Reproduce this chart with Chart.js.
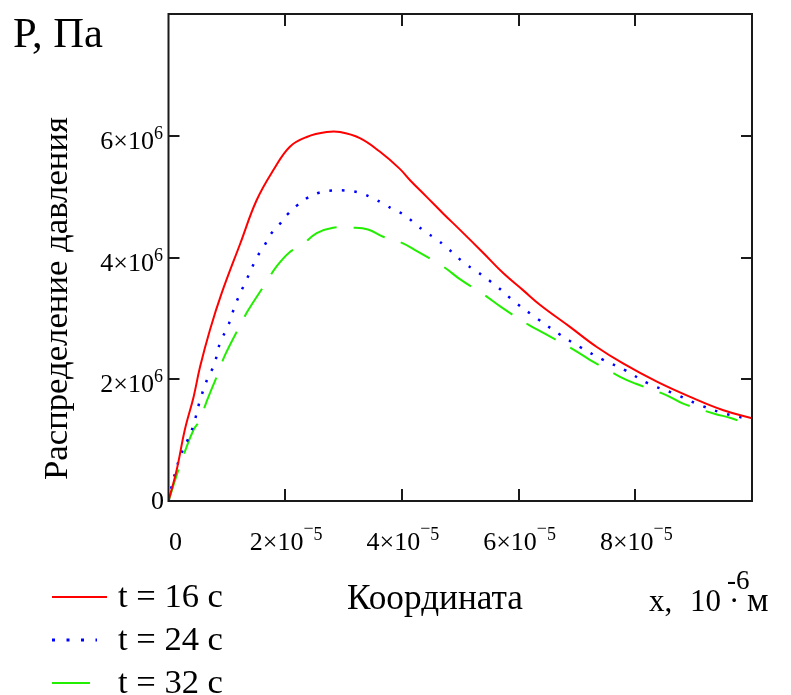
<!DOCTYPE html>
<html><head><meta charset="utf-8">
<script src="https://cdn.jsdelivr.net/npm/chart.js@4.4.1/dist/chart.umd.min.js"></script>
<style>html,body{margin:0;padding:0;background:#fff;overflow:hidden}</style>
</head><body>
<canvas id="c" width="791" height="695" style="display:block;width:791px;height:695px"></canvas>
<script>
// x in units of 1e-5 m, P in units of 1e6 Pa
const x16 = [0,0.14,0.28,0.43,0.54,0.71,0.91,1.23,1.51,1.80,2.08,2.37,2.71,2.94,3.28,3.62,3.96,4.14,4.42,4.71,5.0,5.40,5.74,6.08,6.37,6.88,7.34,7.79,8.37,8.94,9.51,10.0];
const p16 = [0,0.51,1.17,1.71,2.20,2.81,3.41,4.23,4.94,5.44,5.82,5.98,6.06,6.06,5.96,5.74,5.46,5.27,5.00,4.72,4.45,4.07,3.74,3.46,3.22,2.86,2.53,2.26,1.96,1.71,1.49,1.36];
const x24 = [0,0.08,0.20,0.34,0.43,0.53,0.68,0.78,0.89,1.01,1.16,1.34,1.52,1.64,1.75,1.89,2.04,2.21,2.40,2.60,2.81,3.02,3.25,3.47,3.67,3.87,4.02,4.21,4.40,4.58,4.75,5.08,5.27,5.62,5.96,6.33,6.70,7.05,7.45,7.84,8.22,8.65,9.05,9.48,9.88,10.0];
const p24 = [0,0.34,0.73,1.03,1.25,1.62,2.04,2.23,2.62,2.85,3.26,3.64,4.01,4.19,4.38,4.53,4.71,4.86,4.99,5.07,5.10,5.10,5.07,4.99,4.89,4.78,4.71,4.57,4.42,4.31,4.18,3.90,3.78,3.53,3.25,2.99,2.74,2.53,2.32,2.14,1.93,1.77,1.60,1.45,1.36,1.33];
const x32 = [0,0.17,0.28,0.43,0.54,0.64,0.85,0.97,1.23,1.37,1.68,1.85,2.08,2.28,2.54,2.82,3.14,3.42,3.68,4.0,4.25,4.71,5.0,5.42,5.71,6.18,6.45,6.97,7.22,7.74,8.0,8.53,8.82,9.37,9.65,9.94,10.0];
const p32 = [0,0.51,0.81,1.17,1.33,1.60,2.10,2.40,2.89,3.14,3.60,3.85,4.09,4.20,4.40,4.49,4.49,4.46,4.34,4.24,4.11,3.85,3.64,3.38,3.18,2.89,2.75,2.47,2.32,2.04,1.93,1.74,1.60,1.43,1.36,1.25,1.24];

const seriesLabels = ['t = 16 с','t = 24 с','t = 32 с'];
const xTickValues = [0,2,4,6,8];
const xTickExp = '5';
const yTickValues = [0,2,4,6];
const yTickExp = '6';
const yTitle = 'Распределение давления';
const xTitle = 'Координата';
const pTitle = 'P, Па';

const SERIF = '"Liberation Serif", "Times New Roman", serif';
const COLORS = ['#ff0000','#0000ff','#22ee00'];
const DASHES = [[], [2.5, 10], [33, 17]];

function pts(xs, ys){ return xs.map((v,i)=>({x:v, y:ys[i]})); }

function fitFont(ctx, text, target, base){
  ctx.font = base + 'px ' + SERIF;
  const w = ctx.measureText(text).width;
  return base * target / w;
}

const decor = {
  id: 'decor',
  afterDraw(chart){
    const ctx = chart.ctx;
    const a = chart.chartArea;
    const xs = chart.scales.x, ys = chart.scales.y;
    ctx.save();
    ctx.fillStyle = '#000';
    ctx.strokeStyle = '#1a1a1a';
    // frame
    ctx.lineWidth = 2;
    ctx.strokeRect(a.left, a.top, a.right - a.left, a.bottom - a.top);
    // inward ticks
    ctx.beginPath();
    xTickValues.forEach(v => {
      if (v === 0) return;
      const px = Math.round(xs.getPixelForValue(v));
      ctx.moveTo(px, a.bottom); ctx.lineTo(px, a.bottom - 12);
      ctx.moveTo(px, a.top); ctx.lineTo(px, a.top + 12);
    });
    yTickValues.forEach(v => {
      if (v === 0) return;
      const py = Math.round(ys.getPixelForValue(v));
      ctx.moveTo(a.left, py); ctx.lineTo(a.left + 11, py);
      ctx.moveTo(a.right, py); ctx.lineTo(a.right - 11, py);
    });
    ctx.stroke();

    const baseF = '26px ' + SERIF, supF = '18px ' + SERIF;
    ctx.textBaseline = 'alphabetic';
    // x tick labels
    xTickValues.forEach(v => {
      const px = xs.getPixelForValue(v);
      const by = 550;
      if (v === 0) {
        ctx.font = baseF; ctx.textAlign = 'center';
        ctx.fillText('0', px + 7, by);
        return;
      }
      const base = v + '×10';
      ctx.font = baseF; const wb = ctx.measureText(base).width;
      ctx.font = supF; const wm = ctx.measureText('−').width; const w5 = ctx.measureText(xTickExp).width;
      const total = wb + wm + w5;
      let sx = px - total/2 + 1;
      ctx.textAlign = 'left';
      ctx.font = baseF; ctx.fillText(base, sx, by);
      ctx.font = supF; ctx.fillText('−', sx + wb, by - 16);
      ctx.fillText(xTickExp, sx + wb + wm, by - 10);
    });
    // y tick labels
    yTickValues.forEach(v => {
      const py = ys.getPixelForValue(v);
      const rx = 163;
      ctx.textAlign = 'right';
      if (v === 0) {
        ctx.font = baseF; ctx.fillText('0', rx + 1, py + 8);
        return;
      }
      const base = v + '×10';
      ctx.font = supF; const ws = ctx.measureText(yTickExp).width;
      ctx.fillText(yTickExp, rx, py + 3);
      ctx.font = baseF; ctx.fillText(base, rx - ws, py + 13);
    });

    // P title
    ctx.textAlign = 'left';
    let f = fitFont(ctx, pTitle, 90, 36);
    ctx.font = f + 'px ' + SERIF;
    ctx.fillText(pTitle, 13, 47);

    // y axis title (rotated)
    f = fitFont(ctx, yTitle, 363, 30);
    ctx.save();
    ctx.translate(67, 298.5);
    ctx.rotate(-Math.PI/2);
    ctx.font = f + 'px ' + SERIF;
    ctx.textAlign = 'center';
    ctx.fillText(yTitle, 0, 0);
    ctx.restore();

    // x title
    f = fitFont(ctx, xTitle, 176, 34);
    ctx.font = f + 'px ' + SERIF;
    ctx.textAlign = 'left';
    ctx.fillText(xTitle, 347, 609);

    // unit label
    ctx.font = '31px ' + SERIF;
    ctx.fillText('x,', 649, 611);
    ctx.fillText('10', 690, 611);
    ctx.fillText('·', 729, 611);
    ctx.font = '34px ' + SERIF;
    ctx.fillText('м', 747, 611);
    ctx.font = '27px ' + SERIF;
    ctx.fillText('-6', 727, 589);

    // legend
    const rows = [597, 640, 683];
    const ends = [107, 97, 90];
    rows.forEach((y, i) => {
      ctx.save();
      ctx.strokeStyle = COLORS[i];
      ctx.lineWidth = i === 1 ? 3 : 2;
      ctx.setLineDash(i === 1 ? [3, 11.5] : []);
      ctx.beginPath();
      ctx.moveTo(52, y); ctx.lineTo(ends[i], y);
      ctx.stroke();
      ctx.restore();
      const lf = fitFont(ctx, seriesLabels[i], 105, 32);
      ctx.font = lf + 'px ' + SERIF;
      ctx.textAlign = 'left';
      ctx.fillStyle = '#000';
      ctx.fillText(seriesLabels[i], 118, y + 10);
    });
    ctx.restore();
  }
};

new Chart(document.getElementById('c'), {
  type: 'line',
  data: {
    datasets: [
      { label: seriesLabels[0], data: pts(x16, p16), borderColor: COLORS[0], borderWidth: 2, borderDash: DASHES[0], pointRadius: 0, tension: 0.4 },
      { label: seriesLabels[1], data: pts(x24, p24), borderColor: COLORS[1], borderWidth: 2.5, borderDash: DASHES[1], pointRadius: 0, tension: 0.4 },
      { label: seriesLabels[2], data: pts(x32, p32), borderColor: COLORS[2], borderWidth: 2, borderDash: DASHES[2], pointRadius: 0, tension: 0.4 }
    ]
  },
  options: {
    responsive: false,
    animation: false,
    devicePixelRatio: 1,
    layout: { padding: { top: 14, right: 39, left: 0, bottom: 0 } },
    plugins: { legend: { display: false }, tooltip: { enabled: false } },
    scales: {
      x: {
        type: 'linear', min: 0, max: 10,
        ticks: { display: false, stepSize: 2 },
        grid: { display: false }, border: { display: false },
        afterFit(s){ s.height = 194; }
      },
      y: {
        type: 'linear', min: 0, max: 8,
        ticks: { display: false, stepSize: 2 },
        grid: { display: false }, border: { display: false },
        afterFit(s){ s.width = 168.5; }
      }
    }
  },
  plugins: [decor]
});
</script>
</body></html>
